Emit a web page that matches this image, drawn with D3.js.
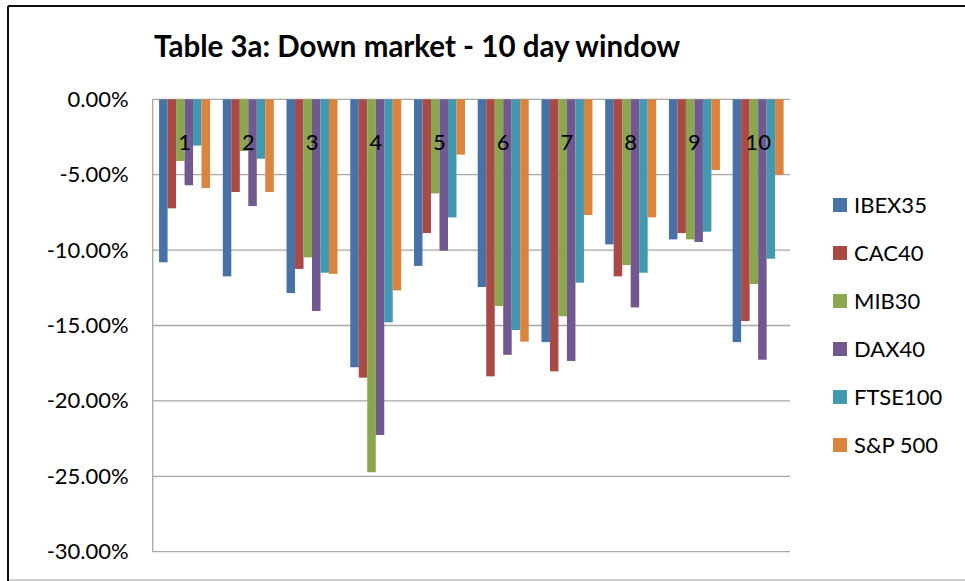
<!DOCTYPE html>
<html>
<head>
<meta charset="utf-8">
<script src="https://cdn.jsdelivr.net/npm/d3@7"></script>
<style>
  html, body { margin: 0; padding: 0; background: #fff; }
  svg { display: block; }
  text { font-family: Lato, "Open Sans", sans-serif; fill: #000; }
</style>
</head>
<body>
<svg id="chart" width="965" height="581"></svg>
<script>
const title = "Table 3a: Down market - 10 day window";
const categories = ["1","2","3","4","5","6","7","8","9","10"];
const seriesNames = ["IBEX35","CAC40","MIB30","DAX40","FTSE100","S&P 500"];
const seriesColors = ["#4672A8","#A94A47","#8AA74E","#71588F","#4298AF","#DB843D"];
const IBEX35  = [-10.81,-11.74,-12.85,-17.77,-11.05,-12.45,-16.10, -9.62,-9.29,-16.10];
const CAC40   = [ -7.23, -6.15,-11.25,-18.46, -8.87,-18.37,-18.04,-11.74,-8.87,-14.70];
const MIB30   = [ -4.09, -3.43,-10.48,-24.73, -6.24,-13.71,-14.39,-10.99,-9.29,-12.25];
const DAX40   = [ -5.70, -7.08,-14.04,-22.26,-10.04,-16.94,-17.35,-13.80,-9.46,-17.27];
const FTSE100 = [ -3.07, -3.94,-11.50,-14.79, -7.83,-15.30,-12.16,-11.50,-8.78,-10.57];
const SP500   = [ -5.88, -6.15,-11.58,-12.67, -3.67,-16.07, -7.67, -7.83,-4.69, -5.00];
const yTicks = [0, -5, -10, -15, -20, -25, -30];

const seriesValues = [IBEX35, CAC40, MIB30, DAX40, FTSE100, SP500];

const svg = d3.select("#chart");

// outer chart frame
svg.append("rect").attr("x", 8).attr("y", 6).attr("width", 990).attr("height", 574)
  .attr("fill", "#fff").attr("stroke", "#bdbdbd").attr("stroke-width", 1.5);
svg.append("line").attr("x1", 8).attr("x2", 965).attr("y1", 6).attr("y2", 6)
  .attr("stroke", "#111").attr("stroke-width", 2);
svg.append("line").attr("x1", 8).attr("x2", 8).attr("y1", 6).attr("y2", 581)
  .attr("stroke", "#111").attr("stroke-width", 2);

const plot = { left: 152.7, right: 790, top: 99.3, bottom: 551.7 };

const x = d3.scaleBand().domain(categories).range([plot.left, plot.right])
  .paddingInner(0.2).paddingOuter(0.1);
const xs = d3.scaleBand().domain(seriesNames).range([0, x.bandwidth()]);
const y = d3.scaleLinear().domain([-30, 0]).range([plot.bottom, plot.top]);

// gridlines
svg.append("g").selectAll("line").data(yTicks).join("line")
  .attr("x1", plot.left).attr("x2", plot.right)
  .attr("y1", d => y(d)).attr("y2", d => y(d))
  .attr("stroke", "#a6a6a6").attr("stroke-width", 1.3);

// y axis labels
const yAxis = d3.axisLeft(y).tickValues(yTicks).tickSize(0).tickPadding(0)
  .tickFormat(d => d.toFixed(2) + "%");
const gy = svg.append("g").attr("transform", `translate(${plot.left - 24},0)`).call(yAxis);
gy.select(".domain").remove();
gy.selectAll("text").style("font-size", "22px").style("font-family", "Lato, sans-serif")
  .attr("fill", "#000");

// bars
const groups = svg.append("g").selectAll("g").data(categories).join("g")
  .attr("transform", d => `translate(${x(d)},0)`);
groups.selectAll("rect")
  .data((c, ci) => seriesNames.map((s, si) => ({ s, si, v: seriesValues[si][ci] })))
  .join("rect")
  .attr("x", d => xs(d.s))
  .attr("width", xs.bandwidth())
  .attr("y", d => y(Math.max(0, d.v)))
  .attr("height", d => Math.abs(y(d.v) - y(0)))
  .attr("fill", d => seriesColors[d.si]);

// left axis line
svg.append("line").attr("x1", plot.left).attr("x2", plot.left)
  .attr("y1", plot.top).attr("y2", plot.bottom)
  .attr("stroke", "#a6a6a6").attr("stroke-width", 1.3);

// category labels (axis at 0, labels just below)
const xAxis = d3.axisBottom(x).tickSize(0).tickPadding(0);
const gx = svg.append("g").attr("transform", `translate(0,${y(0) + 35})`).call(xAxis);
gx.select(".domain").remove();
gx.selectAll("text").style("font-size", "22px").style("font-family", "Lato, sans-serif")
  .attr("fill", "#000");

// title
svg.append("text").attr("x", 154).attr("y", 57)
  .style("font-size", "29.5px").style("font-weight", "bold")
  .text(title);

// legend
const legend = svg.append("g").selectAll("g").data(seriesNames).join("g")
  .attr("transform", (d, i) => `translate(833,${205 + i * 48})`);
legend.append("rect").attr("x", 0).attr("y", -7).attr("width", 14).attr("height", 14)
  .attr("fill", (d, i) => seriesColors[i]);
legend.append("text").attr("x", 21).attr("y", 0).attr("dy", "0.36em")
  .style("font-size", "22px").text(d => d);
</script>
</body>
</html>
